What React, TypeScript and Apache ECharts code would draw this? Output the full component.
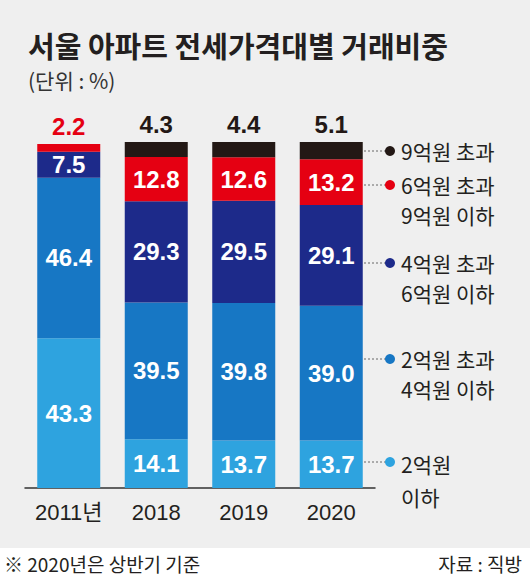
import React, { useEffect, useRef } from "react";
import * as echarts from "echarts";

const CATEGORIES = ["2011년", "2018", "2019", "2020"];
const UNDER_2 = [43.3, 14.1, 13.7, 13.7];
const FROM_2_TO_4 = [46.4, 39.5, 39.8, 39.0];
const FROM_4_TO_6 = [7.5, 29.3, 29.5, 29.1];
const FROM_6_TO_9 = [2.2, 12.8, 12.6, 13.2];
const OVER_9: (number | null)[] = [null, 4.3, 4.4, 5.1];

const SERIES_NAMES = ["2억원\n이하", "2억원 초과\n4억원 이하", "4억원 초과\n6억원 이하", "6억원 초과\n9억원 이하", "9억원 초과"];
const COLORS = ["#2ea3df", "#1777c4", "#1d2a8a", "#e50012", "#231815"];

const TITLE = "서울 아파트 전세가격대별 거래비중";
const SUBTITLE = "(단위 : %)";
const NOTE = "※ 2020년은 상반기 기준";
const SOURCE = "자료 : 직방";

const KR = '"Noto Sans CJK KR", "Noto Sans", sans-serif';
const NUM = '"Liberation Sans", Arial, "Noto Sans CJK KR", sans-serif';

export default function App() {
  const ref = useRef<HTMLDivElement>(null);
  useEffect(() => {
    document.body.style.margin = "0";
    if (!ref.current) return;
    const chart = echarts.init(ref.current, undefined, { renderer: "svg" });

    const inner = {
      show: true,
      position: "inside",
      color: "#ffffff",
      fontSize: 24,
      fontWeight: "bold",
      fontFamily: NUM,
      formatter: (p: any) => (p.value == null ? "" : Number(p.value).toFixed(1)),
    };

    const mk = (idx: number, data: any[], label: any) => ({
      name: SERIES_NAMES[idx],
      type: "bar",
      stack: "total",
      barWidth: 63,
      itemStyle: { color: COLORS[idx] },
      label,
      data,
    });

    const redData = FROM_6_TO_9.map((v, i) =>
      i === 0
        ? { value: v, label: { position: "top", color: "#e50012", distance: 6 } }
        : v
    );

    // legend graphic positions (layout)
    const legendY = [462, 359, 263, 185, 151];
    const legendGraphic: any[] = [];
    SERIES_NAMES.forEach((name, i) => {
      const y = legendY[i];
      legendGraphic.push({
        type: "line",
        shape: { x1: 364, y1: y, x2: 386, y2: y },
        style: { stroke: "#666", lineWidth: 1, lineDash: [2, 2] },
      });
      legendGraphic.push({
        type: "circle",
        shape: { cx: 390, cy: y, r: 5 },
        style: { fill: COLORS[i] },
      });
      legendGraphic.push({
        type: "text",
        x: 401,
        y: y - 15,
        style: {
          text: name,
          font: `21px ${KR}`,
          fill: "#231f20",
          lineHeight: i === 0 ? 33 : 30,
          textVerticalAlign: "top",
        },
      });
    });

    chart.setOption({
      animation: false,
      backgroundColor: "#efefef",
      grid: { left: 25, right: 155, top: 142, bottom: 88 },
      xAxis: {
        type: "category",
        data: CATEGORIES,
        axisLine: { lineStyle: { color: "#333", width: 1.5 } },
        axisTick: { show: false },
        axisLabel: {
          interval: 0,
          color: "#231f20",
          fontSize: 22,
          fontFamily: NUM,
          margin: 13,
        },
      },
      yAxis: { type: "value", min: 0, max: 100, show: false },
      series: [
        mk(0, UNDER_2, inner),
        mk(1, FROM_2_TO_4, inner),
        mk(2, FROM_4_TO_6, inner),
        mk(3, redData, inner),
        mk(4, OVER_9, {
          ...inner,
          position: "top",
          color: "#231815",
          distance: 6,
        }),
      ],
      graphic: [
        {
          type: "rect",
          shape: { x: 0, y: 548, width: 530, height: 28 },
          style: { fill: "#ffffff" },
        },
        {
          type: "text",
          x: 28,
          y: 45,
          style: { text: TITLE, font: `bold 29px ${KR}`, fill: "#231f20", textVerticalAlign: "middle", lineHeight: 30 },
        },
        {
          type: "text",
          x: 28,
          y: 80,
          style: { text: SUBTITLE, font: `21px ${KR}`, fill: "#333", textVerticalAlign: "middle", lineHeight: 22 },
        },
        {
          type: "text",
          x: 4,
          y: 563,
          style: { text: NOTE, font: `19px ${KR}`, fill: "#231f20", textVerticalAlign: "middle", lineHeight: 20 },
        },
        {
          type: "text",
          x: 522,
          y: 563,
          style: { text: SOURCE, font: `19px ${KR}`, fill: "#231f20", textAlign: "right", textVerticalAlign: "middle", lineHeight: 20 },
        },
        ...legendGraphic,
      ],
    });
    return () => chart.dispose();
  }, []);
  return <div ref={ref} style={{ width: 530, height: 576 }} />;
}
